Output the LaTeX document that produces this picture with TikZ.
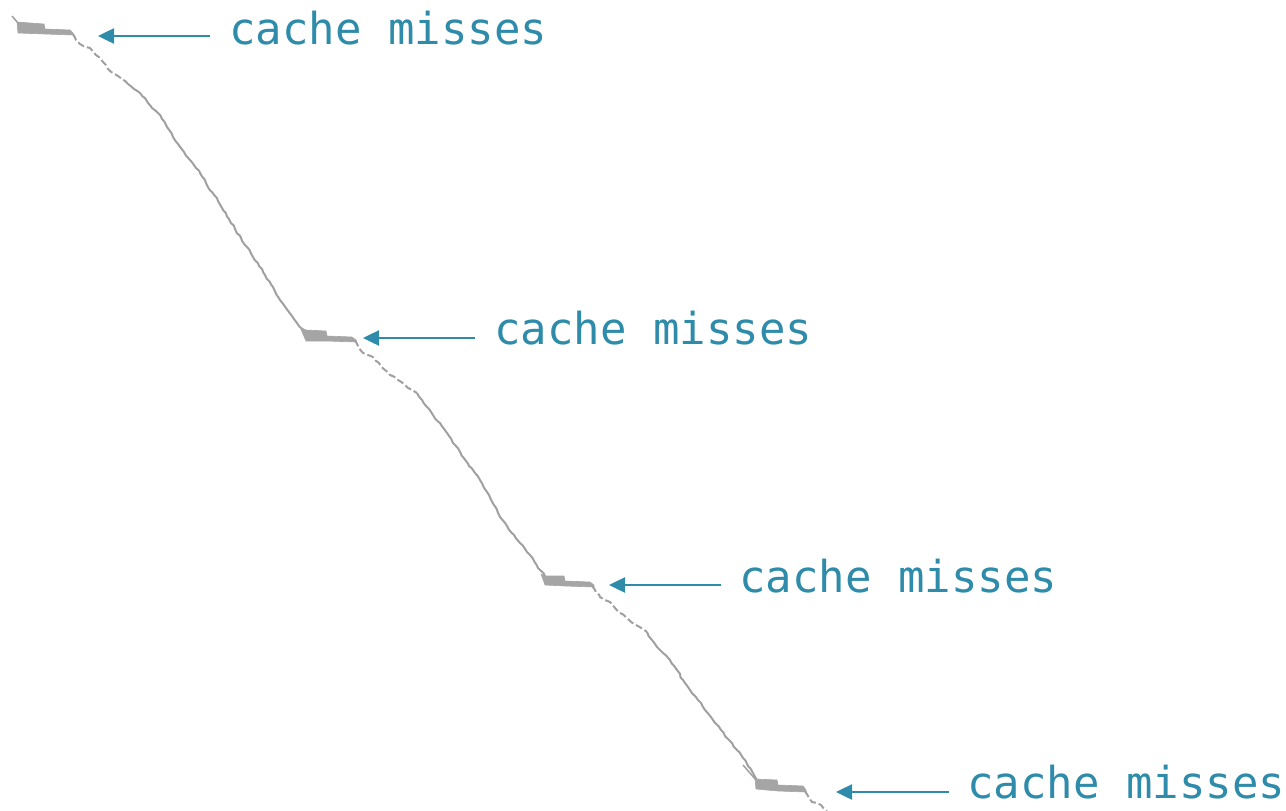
\documentclass[tikz,border=0pt]{standalone}
\usepackage{fontspec}
\newfontfamily\monof{DejaVu Sans Mono}
\usetikzlibrary{arrows.meta,decorations.pathmorphing}
\definecolor{teal1}{RGB}{46,140,170}
\definecolor{trace}{RGB}{160,160,160}
\definecolor{blob}{RGB}{165,165,165}
\tikzset{
  lbl/.style={anchor=base west,inner sep=0pt,text=teal1,font=\monof\fontsize{44}{44}\selectfont},
  arr/.style={draw=teal1,line width=2.5pt,-{Triangle[length=16pt,width=15pt]}},
  trc/.style={draw=trace,line width=2pt,line join=round,decorate,decoration={random steps,segment length=4pt,amplitude=0.8pt}},
  trcd/.style={trc,dash pattern=on 7pt off 3pt},
  flat/.style={fill=blob,draw=blob,line width=0.6pt,line join=round},
}
\begin{document}
\begin{tikzpicture}[x=1pt,y=-1pt]
\pgfmathsetseed{7}
\useasboundingbox (0,0) rectangle (1286,811);
% ---- trace: flat 1 ----
\draw[trace,line width=1.5pt] (12,16) -- (18,23);
\path[flat] (17,22) -- (30,23) -- (44,24) -- (45,29) -- (70,30) -- (73,33) -- (73,35) -- (45,34) -- (18,33) -- cycle;
\draw[trcd] (73,34) -- (76,40) -- (80,44) -- (86,47) -- (90,48) -- (96,55) -- (103,62) -- (108,69) -- (113,73) -- (118,76) -- (122,79) -- (128,84);
\draw[trc] (128,84) -- (134,89) -- (140,93) -- (145,98) -- (148,103) -- (152,108) -- (158,113) -- (162,119) -- (167,127) -- (173,137) -- (178,144) -- (184,152) -- (190,160) -- (196,168) -- (200,173) -- (206,183) -- (212,192) -- (218,201) -- (223,210) -- (229,219) -- (235,229) -- (241,238) -- (247,247) -- (253,257) -- (259,266) -- (265,275) -- (273,287) -- (280,300) -- (286,308) -- (292,316) -- (297,323) -- (303,330);
% ---- flat 2 ----
\path[flat] (300,327) -- (306,330) -- (326,331) -- (327,336) -- (352,337) -- (356,340) -- (356,342) -- (327,341) -- (306,341) -- cycle;
\draw[trcd] (355,340) -- (358,346) -- (363,353) -- (368,355) -- (373,357) -- (379,363) -- (385,370) -- (390,375) -- (398,380) -- (405,385) -- (412,390) -- (417,393);
\draw[trc] (417,393) -- (422,400) -- (427,407) -- (433,415) -- (440,423) -- (447,433) -- (455,445) -- (463,457) -- (469,466) -- (475,473) -- (480,480) -- (487,492) -- (494,505) -- (500,517) -- (507,526) -- (514,535) -- (520,543) -- (527,552) -- (534,561) -- (540,570) -- (545,576);
% ---- flat 3 ----
\path[flat] (541,574) -- (545,576) -- (564,576) -- (565,581) -- (590,582) -- (594,585) -- (594,587) -- (565,586) -- (545,585) -- cycle;
\draw[trcd] (592,586) -- (596,592) -- (600,597) -- (605,600) -- (610,602) -- (615,608) -- (620,613) -- (628,619) -- (636,625) -- (643,629) -- (647,632);
\draw[trc] (647,632) -- (652,640) -- (657,647) -- (663,653) -- (670,660) -- (677,670) -- (683,680) -- (690,690) -- (698,700) -- (705,710) -- (713,720) -- (721,730) -- (729,740) -- (737,750) -- (743,758) -- (748,766) -- (753,773) -- (757,780);
% ---- flat 4 ----
\draw[trace,line width=1.5pt] (743,765) -- (756,780);
\path[flat] (755,779) -- (777,780) -- (778,785) -- (803,786) -- (806,790) -- (806,792) -- (778,791) -- (756,789) -- cycle;
\draw[trcd] (805,791) -- (808,796) -- (812,802) -- (817,803) -- (821,805) -- (827,811);
% ---- labels and arrows ----
\node[lbl] (t1) at (229,44) {cache misses};
\node[lbl] (t2) at (494,344) {cache misses};
\node[lbl] (t3) at (739,592) {cache misses};
\node[lbl] (t4) at (967,798) {cache misses};
\coordinate (s1) at (210,36); \coordinate (m1) at (98,36);
\coordinate (s2) at (475,338); \coordinate (m2) at (363,338);
\coordinate (s3) at (721,585); \coordinate (m3) at (609,585);
\coordinate (s4) at (949,792); \coordinate (m4) at (836,792);
\draw[arr] (s1) -- (m1);
\draw[arr] (s2) -- (m2);
\draw[arr] (s3) -- (m3);
\draw[arr] (s4) -- (m4);
\end{tikzpicture}
\end{document}
